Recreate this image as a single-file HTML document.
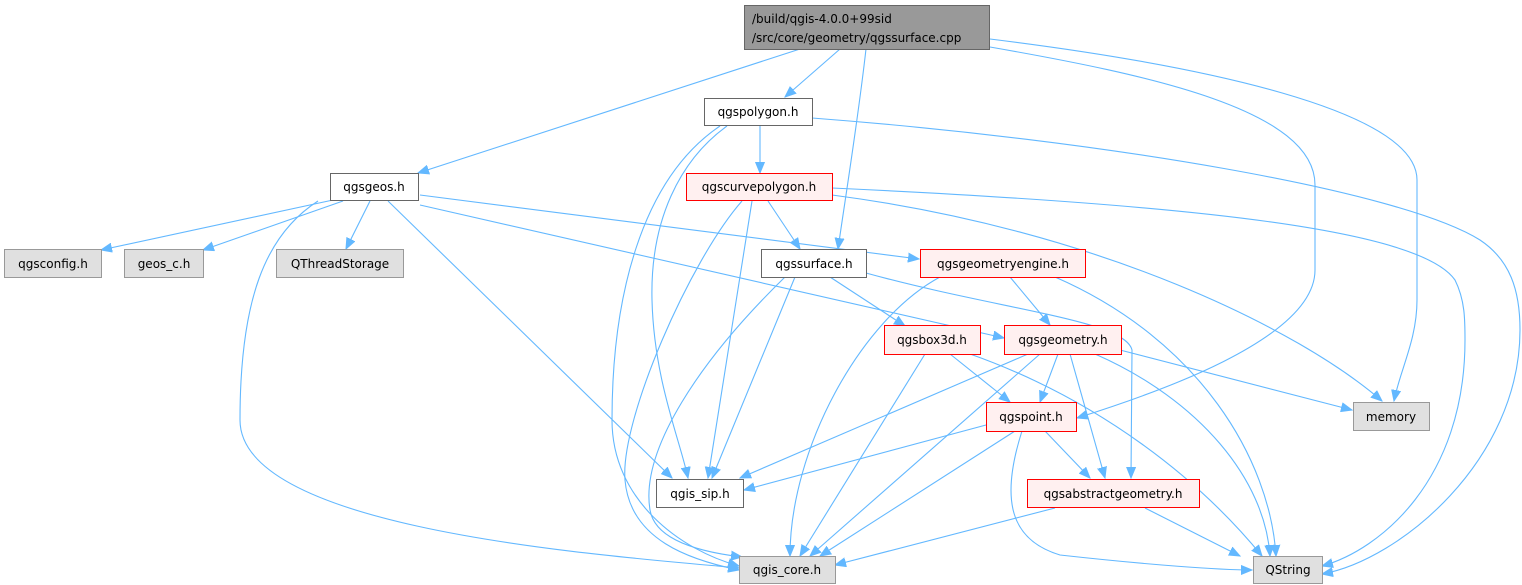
<!DOCTYPE html>
<html><head><meta charset="utf-8"><style>
html,body{margin:0;padding:0;background:#fff;}
svg{display:block;}
text{font-family:"DejaVu Sans","Liberation Sans",sans-serif;font-size:12px;fill:#000;}
</style></head><body>
<svg width="1522" height="585" viewBox="0 0 1522 585" xmlns="http://www.w3.org/2000/svg">
<defs>
<marker id="a" markerUnits="userSpaceOnUse" markerWidth="12" markerHeight="10" refX="11" refY="5" orient="auto">
<path d="M0,0.5 L11,5 L0,9.5 z" fill="#63b8ff" stroke="#63b8ff"/>
</marker>
</defs>
<g fill="none" stroke="#63b8ff" stroke-width="1.1" marker-end="url(#a)">
<!-- top -->
<path d="M800,49 L418,173"/>
<path d="M840,49 L785,97"/>
<path d="M866,49 C858,120 845,200 838,249"/>
<path d="M990,47 C1150,75 1315,110 1315,185 L1315,270 C1315,340 1150,395 1077,418"/>
<path d="M990,39 C1200,65 1417,110 1417,180 L1417,300 C1417,340 1400,370 1394,401"/>
<!-- qgspolygon -->
<path d="M760,126 L760,173"/>
<path d="M727,126 C680,160 650,220 652,300 C654,380 680,440 688,478"/>
<path d="M720,126 C640,180 612,300 612,420 C612,500 680,550 739,566"/>
<path d="M812,118 C1100,140 1400,190 1480,240 C1510,260 1520,290 1520,330 C1520,460 1400,560 1322,574"/>
<!-- qgscurvepolygon -->
<path d="M768,201 L800,249"/>
<path d="M752,201 L708,478"/>
<path d="M742,201 C690,260 620,420 625,480 C630,540 690,560 739,570"/>
<path d="M832,195 C1100,230 1300,330 1382,401"/>
<path d="M832,188 C1200,205 1420,230 1455,280 C1465,300 1465,320 1465,340 C1465,480 1380,550 1322,566"/>
<!-- qgsgeos -->
<path d="M333,200 L101,250"/>
<path d="M343,201 L203,250"/>
<path d="M370,201 L346,249"/>
<path d="M388,201 L672,478"/>
<path d="M318,201 C265,235 240,300 240,420 C240,530 600,555 739,568"/>
<path d="M420,195 L919,259"/>
<path d="M420,205 L1004,338"/>
<!-- qgssurface -->
<path d="M830,277 L905,326"/>
<path d="M795,277 L712,478"/>
<path d="M785,277 C700,360 640,450 650,510 C655,540 700,552 742,557"/>
<path d="M866,273 C1000,310 1125,320 1132,350 L1131,478"/>
<!-- qgsgeometryengine -->
<path d="M1010,277 L1050,325"/>
<path d="M940,277 C860,320 790,450 790,556"/>
<path d="M1055,277 C1200,340 1270,460 1276,556"/>
<!-- qgsbox3d -->
<path d="M950,354 L1010,402"/>
<path d="M925,354 L800,556"/>
<path d="M970,354 C1100,400 1200,480 1262,556"/>
<!-- qgsgeometry -->
<path d="M1058,354 L1040,402"/>
<path d="M1120,350 L1352,410"/>
<path d="M1028,354 L740,478"/>
<path d="M1040,354 L810,556"/>
<path d="M1070,354 L1105,478"/>
<path d="M1095,354 C1200,400 1265,480 1270,556"/>
<!-- qgspoint -->
<path d="M986,425 L744,490"/>
<path d="M1045,431 L1090,478"/>
<path d="M1015,431 L820,556"/>
<path d="M1022,431 C1000,500 1010,540 1060,555 C1150,565 1220,570 1252,570"/>
<!-- qgsabstractgeometry -->
<path d="M1055,508 L835,565"/>
<path d="M1145,508 L1240,556"/>
</g>
<g stroke-width="1">
<rect x="744.5" y="5.5" width="245" height="44" fill="#999" stroke="#666"/>
<text x="752" y="23">/build/qgis-4.0.0+99sid</text>
<text x="752" y="42">/src/core/geometry/qgssurface.cpp</text>

<rect x="704.5" y="98.5" width="108" height="27" fill="#fff" stroke="#666"/>
<text x="758" y="116" text-anchor="middle">qgspolygon.h</text>

<rect x="330.5" y="173.5" width="88" height="27" fill="#fff" stroke="#666"/>
<text x="374" y="191" text-anchor="middle">qgsgeos.h</text>

<rect x="686.5" y="173.5" width="146" height="27" fill="#fff0f0" stroke="#f00"/>
<text x="759" y="191" text-anchor="middle">qgscurvepolygon.h</text>

<rect x="4.5" y="249.5" width="97" height="28" fill="#e0e0e0" stroke="#999"/>
<text x="53" y="268" text-anchor="middle">qgsconfig.h</text>
<rect x="124.5" y="249.5" width="79" height="28" fill="#e0e0e0" stroke="#999"/>
<text x="164" y="268" text-anchor="middle">geos_c.h</text>
<rect x="276.5" y="249.5" width="127" height="28" fill="#e0e0e0" stroke="#999"/>
<text x="340" y="268" text-anchor="middle">QThreadStorage</text>

<rect x="761.5" y="249.5" width="105" height="28" fill="#fff" stroke="#666"/>
<text x="814" y="268" text-anchor="middle">qgssurface.h</text>

<rect x="920.5" y="249.5" width="165" height="28" fill="#fff0f0" stroke="#f00"/>
<text x="1003" y="268" text-anchor="middle">qgsgeometryengine.h</text>

<rect x="884.5" y="325.5" width="96" height="29" fill="#fff0f0" stroke="#f00"/>
<text x="932" y="344" text-anchor="middle">qgsbox3d.h</text>

<rect x="1004.5" y="325.5" width="117" height="29" fill="#fff0f0" stroke="#f00"/>
<text x="1063" y="344" text-anchor="middle">qgsgeometry.h</text>

<rect x="986.5" y="402.5" width="90" height="29" fill="#fff0f0" stroke="#f00"/>
<text x="1031" y="421" text-anchor="middle">qgspoint.h</text>

<rect x="1353.5" y="402.5" width="76" height="28" fill="#e0e0e0" stroke="#999"/>
<text x="1391" y="421" text-anchor="middle">memory</text>

<rect x="656.5" y="479.5" width="87" height="28" fill="#fff" stroke="#666"/>
<text x="700" y="498" text-anchor="middle">qgis_sip.h</text>

<rect x="1027.5" y="479.5" width="172" height="28" fill="#fff0f0" stroke="#f00"/>
<text x="1113" y="498" text-anchor="middle">qgsabstractgeometry.h</text>

<rect x="739.5" y="556.5" width="96" height="27" fill="#e0e0e0" stroke="#999"/>
<text x="787" y="574" text-anchor="middle">qgis_core.h</text>

<rect x="1253.5" y="556.5" width="69" height="27" fill="#e0e0e0" stroke="#999"/>
<text x="1288" y="574" text-anchor="middle">QString</text>
</g>
</svg>
</body></html>
